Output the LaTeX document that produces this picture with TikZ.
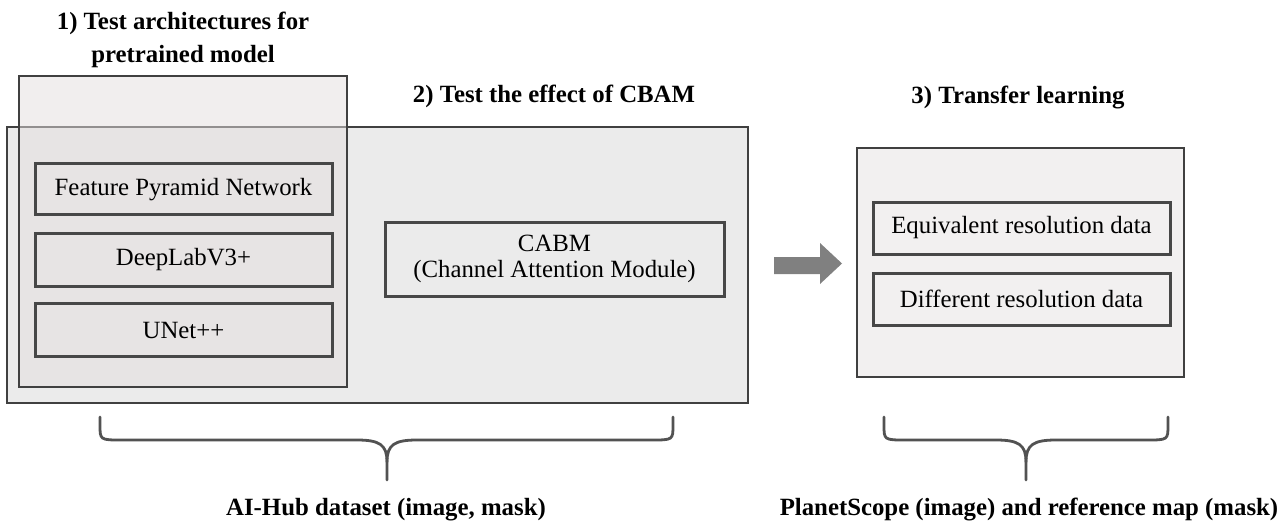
\documentclass[tikz,border=0pt]{standalone}
\usepackage{fontspec}
\setmainfont{Liberation Serif}
\begin{document}
\begin{tikzpicture}[x=1pt,y=-1pt,
  boxtext/.style={font=\fontsize{24.8}{26}\selectfont,align=center,inner sep=0pt},
  titletext/.style={font=\fontsize{24.8}{32}\selectfont\bfseries,align=center,inner sep=0pt},
  innerbox/.style={draw=black!72,line width=3pt},
  outerbox/.style={draw=black!75,line width=1.3pt},
  bracepath/.style={draw=black!68,line width=2.8pt,line cap=round,line join=round}]
\useasboundingbox (0,0) rectangle (1286,522);
% outer boxes
\fill[white] (0,0) rectangle (1286,522);
\draw[outerbox,fill={rgb,255:red,235;green,235;blue,235}] (7,127) rectangle (748,403);
\draw[outerbox,fill={rgb,255:red,228;green,223;blue,223},fill opacity=0.5] (19,76) rectangle (347,387);
\draw[outerbox,fill={rgb,255:red,242;green,240;blue,240}] (857,148) rectangle (1184,377);
% inner boxes
\draw[innerbox] (35,163) rectangle (332,214);
\draw[innerbox] (35,233) rectangle (332,286);
\draw[innerbox] (35,303) rectangle (332,356);
\draw[innerbox] (385,222) rectangle (724,296);
\draw[innerbox] (873,202) rectangle (1170,254);
\draw[innerbox] (873,273) rectangle (1170,325);
\node[boxtext] (fpn) at (183.5,190) {Feature Pyramid Network};
\node[boxtext] (dlv) at (183.5,260) {DeepLabV3+};
\node[boxtext] (unet) at (183.5,330) {UNet++};
\node[boxtext] (cabm) at (554.5,259) {CABM\\(Channel Attention Module)};
\node[boxtext] (eqv) at (1021.5,228) {Equivalent resolution data};
\node[boxtext] (dif) at (1021.5,299) {Different resolution data};
% titles
\node[titletext,anchor=base] (t1a) at (183,30) {1) Test architectures for};
\node[titletext,anchor=base] (t1b) at (183,62) {pretrained model};
\node[titletext,anchor=base] (t2) at (554,102) {2) Test the effect of CBAM};
\node[titletext,anchor=base] (t3) at (1018,103) {3) Transfer learning};
% arrow
\coordinate (as) at (774,263.5);
\coordinate (at) at (842,263.5);
\fill[black!50] (774,257) -- (820,257) -- (820,243) -- (at) -- (820,284) -- (820,274) -- (774,274) -- cycle;
% braces
\coordinate (b1l) at (100,417); \coordinate (b1r) at (673,417); \coordinate (b1t) at (387,480);
\draw[bracepath] (b1l) -- (100,425) .. controls (100,440) and (100,440) .. (122,440) -- (357,440)
  .. controls (380,440) and (387,445) .. (387,462) -- (b1t);
\draw[bracepath] (b1r) -- (673,425) .. controls (673,440) and (673,440) .. (651,440) -- (417,440)
  .. controls (394,440) and (387,445) .. (387,462);
\coordinate (b2l) at (884,417); \coordinate (b2r) at (1168,417); \coordinate (b2t) at (1026,480);
\draw[bracepath] (b2l) -- (884,425) .. controls (884,440) and (884,440) .. (906,440) -- (996,440)
  .. controls (1019,440) and (1026,445) .. (1026,462) -- (b2t);
\draw[bracepath] (b2r) -- (1168,425) .. controls (1168,440) and (1168,440) .. (1146,440) -- (1056,440)
  .. controls (1033,440) and (1026,445) .. (1026,462);
\node[titletext,anchor=base] (d1) at (386,515) {AI-Hub dataset (image, mask)};
\node[titletext,anchor=base] (d2) at (1029,515) {PlanetScope (image) and reference map (mask)};
\end{tikzpicture}
\end{document}
